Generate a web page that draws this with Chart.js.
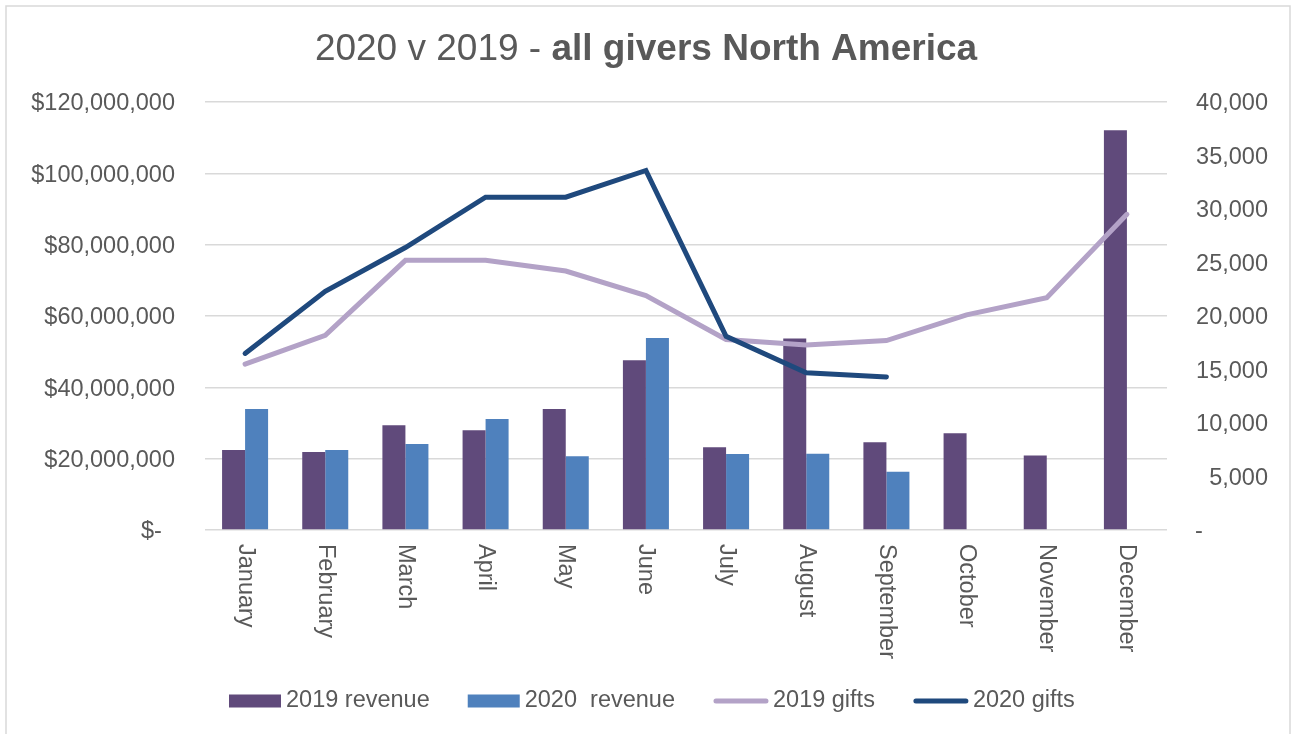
<!DOCTYPE html>
<html>
<head>
<meta charset="utf-8">
<title>2020 v 2019 - all givers North America</title>
<script src="https://cdn.jsdelivr.net/npm/chart.js@4"></script>
<style>
  html, body { margin: 0; padding: 0; background: #ffffff; }
  #wrap { width: 1292px; height: 734px; position: relative; }
</style>
</head>
<body>
<div id="wrap"><canvas id="chart-node-1" width="1292" height="734"></canvas></div>
<script>
// Monthly revenue and gift counts, North America
var months = ["January", "February", "March", "April", "May", "June", "July",
  "August", "September", "October", "November", "December"];
var revenue2019 = [22400000, 21900000, 29400000, 28000000, 33900000, 47600000,
  23200000, 53700000, 24600000, 27100000, 20900000, 112100000];
var revenue2020 = [33900000, 22400000, 24100000, 31100000, 20700000, 53800000,
  21300000, 21400000, 16300000, null, null, null];
var gifts2019 = [15500, 18200, 25200, 25200, 24200, 21900, 17800, 17300, 17700,
  20100, 21700, 29500];
var gifts2020 = [16500, 22300, 26400, 31100, 31100, 33600, 18100, 14700, 14300,
  null, null, null];

var textColor = "#595959";
var fontFamily = "'Liberation Sans', Arial, sans-serif";
var tickSize = 23.5;

// frame, title, rotated month labels and legend are drawn by hand
var decorations = {
  id: "decorations",
  beforeDraw: function(chart) {
    var ctx = chart.ctx;
    ctx.save();
    ctx.fillStyle = "#ffffff";
    ctx.fillRect(0, 0, chart.width, chart.height);
    ctx.strokeStyle = "#d9d9d9";
    ctx.lineWidth = 1.5;
    ctx.strokeRect(6, 6, 1284, 740);
    ctx.restore();
  },
  afterDraw: function(chart) {
    var ctx = chart.ctx;
    ctx.save();
    ctx.fillStyle = textColor;

    // title: plain part + bold part, centred as one line
    var plain = "2020 v 2019 - ";
    var bold = "all givers North America";
    ctx.font = "37px " + fontFamily;
    var w1 = ctx.measureText(plain).width;
    ctx.font = "bold 37px " + fontFamily;
    var w2 = ctx.measureText(bold).width;
    var tx = chart.width / 2 - (w1 + w2) / 2;
    ctx.textBaseline = "middle";
    ctx.textAlign = "left";
    ctx.font = "37px " + fontFamily;
    ctx.fillText(plain, tx, 50);
    ctx.font = "bold 37px " + fontFamily;
    ctx.fillText(bold, tx + w1, 50);

    // month labels, turned clockwise
    var xScale = chart.scales.x;
    ctx.font = tickSize + "px " + fontFamily;
    for (var i = 0; i < months.length; i++) {
      var px = xScale.getPixelForTick(i);
      ctx.save();
      ctx.translate(px, 544);
      ctx.rotate(Math.PI / 2);
      ctx.textAlign = "left";
      ctx.textBaseline = "middle";
      ctx.fillText(months[i], 0, 0);
      ctx.restore();
    }

    // legend
    var lx = 229, ly = 701;
    var sets = chart.data.datasets;
    for (var j = 0; j < sets.length; j++) {
      var ds = sets[j];
      if (ds.type === "line") {
        ctx.strokeStyle = ds.borderColor;
        ctx.lineWidth = 5;
        ctx.lineCap = "round";
        ctx.beginPath();
        ctx.moveTo(lx + 3, ly);
        ctx.lineTo(lx + 53, ly);
        ctx.stroke();
        lx += 60;
      } else {
        ctx.fillStyle = ds.backgroundColor;
        ctx.fillRect(lx, ly - 6.5, 52, 13);
        lx += 57;
      }
      ctx.fillStyle = textColor;
      ctx.textAlign = "left";
      ctx.textBaseline = "middle";
      ctx.fillText(ds.label, lx, ly);
      lx += ctx.measureText(ds.label).width + 38;
    }
    ctx.restore();
  }
};

function formatDollars(v) {
  if (v === 0) return "$-  ";
  return "$" + v.toLocaleString("en-US");
}

function formatGifts(v) {
  if (v === 0) return "-          ";
  return v.toLocaleString("en-US");
}

function generateChart(nodeName) {
  var ctx = document.getElementById(nodeName).getContext("2d");
  var config = {
    data: {
      labels: months,
      datasets: [{
        type: "bar",
        label: "2019 revenue",
        data: revenue2019,
        backgroundColor: "#604a7b",
        yAxisID: "y",
        order: 3
      }, {
        type: "bar",
        label: "2020  revenue",
        data: revenue2020,
        backgroundColor: "#4f81bd",
        yAxisID: "y",
        order: 3
      }, {
        type: "line",
        label: "2019 gifts",
        data: gifts2019,
        borderColor: "#b3a2c7",
        backgroundColor: "#b3a2c7",
        borderWidth: 5,
        borderCapStyle: "round",
        borderJoinStyle: "miter",
        pointRadius: 0,
        tension: 0,
        yAxisID: "y1",
        order: 2
      }, {
        type: "line",
        label: "2020 gifts",
        data: gifts2020,
        borderColor: "#1f497d",
        backgroundColor: "#1f497d",
        borderWidth: 5,
        borderCapStyle: "round",
        borderJoinStyle: "miter",
        pointRadius: 0,
        tension: 0,
        spanGaps: false,
        yAxisID: "y1",
        order: 1
      }]
    },
    options: {
      responsive: false,
      animation: false,
      layout: { padding: { left: 0, right: 24, top: 102, bottom: 0 } },
      plugins: {
        legend: { display: false },
        title: { display: false },
        tooltip: { enabled: false }
      },
      datasets: {
        bar: { categoryPercentage: 0.574, barPercentage: 1.0 }
      },
      scales: {
        x: {
          grid: { display: false, drawTicks: false },
          border: { display: false },
          ticks: { display: false },
          afterFit: function(scale) { scale.height = 204; }
        },
        y: {
          position: "left",
          min: 0,
          max: 120000000,
          grid: { color: "#d9d9d9", lineWidth: 1.5, drawTicks: false },
          border: { display: false },
          ticks: {
            stepSize: 20000000,
            padding: 30,
            labelOffset: 2,
            color: textColor,
            font: { family: fontFamily, size: tickSize },
            callback: formatDollars
          },
          afterFit: function(scale) { scale.width = 205; }
        },
        y1: {
          position: "right",
          min: 0,
          max: 40000,
          grid: { display: false, drawTicks: false },
          border: { display: false },
          ticks: {
            stepSize: 5000,
            padding: 29,
            labelOffset: 2,
            crossAlign: "far",
            color: textColor,
            font: { family: fontFamily, size: tickSize },
            callback: formatGifts
          },
          afterFit: function(scale) { scale.width = 101; }
        }
      }
    },
    plugins: [decorations]
  };
  return new Chart(ctx, config);
}

generateChart("chart-node-1");
</script>
</body>
</html>
